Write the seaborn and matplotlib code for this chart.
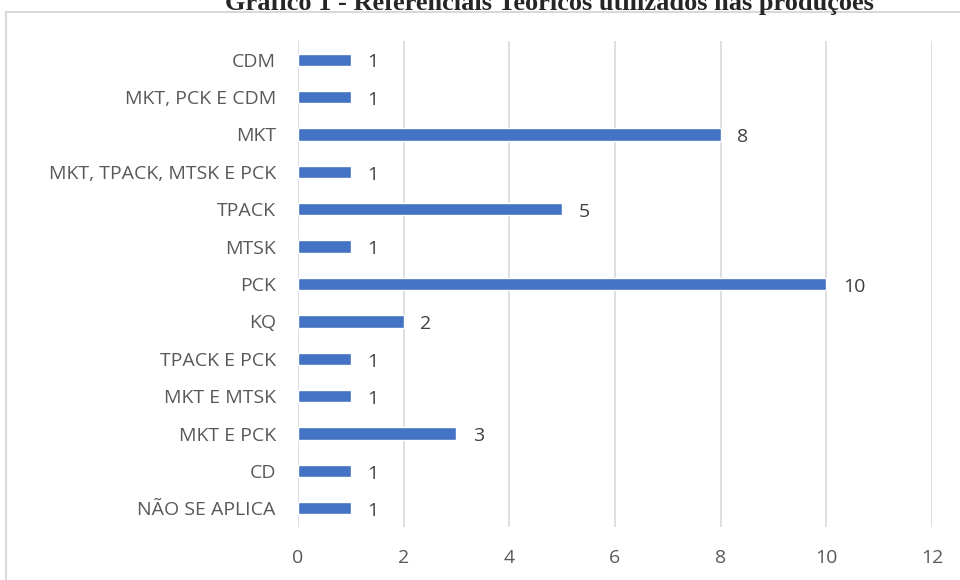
import matplotlib
matplotlib.use('Agg')
import matplotlib.pyplot as plt
from matplotlib.patches import Rectangle
import seaborn as sns
import pandas as pd

categories = ["CDM", "MKT, PCK E CDM", "MKT", "MKT, TPACK, MTSK E PCK", "TPACK",
              "MTSK", "PCK", "KQ", "TPACK E PCK", "MKT E MTSK", "MKT E PCK",
              "CD", "NÃO SE APLICA"]
counts = [1, 1, 8, 1, 5, 1, 10, 2, 1, 1, 3, 1, 1]
x_ticks = [0, 2, 4, 6, 8, 10, 12]
title = "Gráfico 1 - Referenciais Teóricos utilizados nas produções"

df = pd.DataFrame({"ref": categories, "n": counts})

sns.set_theme(style="white")
plt.rcParams['font.family'] = ['Open Sans', 'DejaVu Sans']

fig = plt.figure(figsize=(9.6, 5.8), dpi=100)
ax = fig.add_axes([0.3104, 0.0914, 0.6604, 0.8379])

# outer chart border (Excel style), partly outside the crop
fig.patches.append(Rectangle((6 / 960, -0.1), 1.2, 1 - 12 / 580 + 0.1,
                             transform=fig.transFigure, fill=False,
                             edgecolor='#d9d9d9', linewidth=1.5))

sns.barplot(data=df, x="n", y="ref", color='#4472C4', width=0.33,
            saturation=1, ax=ax, zorder=3)

for i, v in enumerate(counts):
    ax.annotate(str(v), (v, i), xytext=(12, -2), textcoords='offset points',
                va='center', ha='left', fontsize=14, color='#404040')

ax.set_xlim(0, 12)
ax.set_xticks(x_ticks)
ax.grid(axis='x', color='#d9d9d9', linewidth=1.2, zorder=0)
for s in ax.spines.values():
    s.set_visible(False)
ax.set_xlabel("")
ax.set_ylabel("")
ax.tick_params(axis='x', labelsize=14, labelcolor='#595959', pad=16, length=0)
ax.tick_params(axis='y', labelsize=14, labelcolor='#595959', pad=16, length=0)

fig.text(0.572, 1 - 10 / 580, title, ha='center', va='baseline', fontsize=19,
         fontweight='bold', family=['Liberation Serif'])

fig.savefig("out.png", dpi=100)
